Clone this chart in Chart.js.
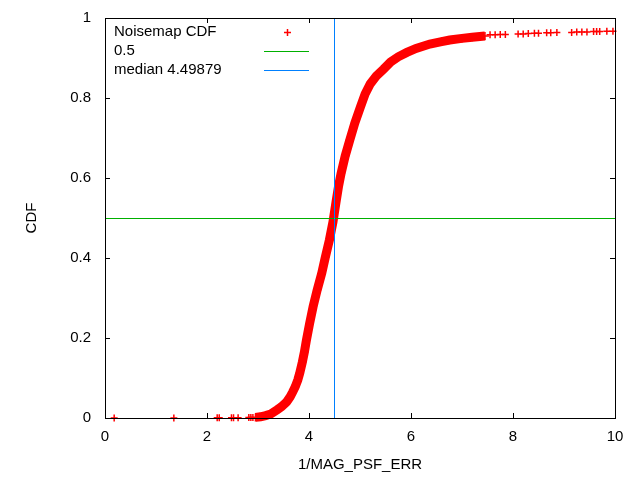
<!DOCTYPE html>
<html>
<head>
<meta charset="utf-8">
<script src="https://cdn.jsdelivr.net/npm/chart.js@4.4.1/dist/chart.umd.min.js"></script>
<style>
  html, body { margin: 0; padding: 0; background: #fff; }
  #wrap { width: 640px; height: 480px; }
</style>
</head>
<body>
<div id="wrap"><canvas id="cdfChart"></canvas></div>
<script>
const curveX = [2.95, 3.05, 3.15, 3.25, 3.37, 3.46, 3.56, 3.63, 3.68, 3.73, 3.78, 3.82, 3.87, 3.91, 3.95,
  4.01, 4.08, 4.16, 4.25, 4.32, 4.40, 4.47, 4.53, 4.58, 4.63, 4.71, 4.80, 4.90, 5.01, 5.10, 5.20,
  5.32, 5.46, 5.60, 5.75, 5.92, 6.10, 6.37, 6.60, 6.76, 7.00, 7.20, 7.45];
const curveY = [0.0015, 0.003, 0.006, 0.01, 0.02, 0.028, 0.04, 0.053, 0.065, 0.078, 0.095, 0.113, 0.14, 0.165, 0.195,
  0.235, 0.278, 0.32, 0.362, 0.402, 0.445, 0.49, 0.54, 0.58, 0.612, 0.655, 0.695, 0.738, 0.778, 0.81, 0.835,
  0.855, 0.872, 0.89, 0.903, 0.914, 0.924, 0.935, 0.941, 0.945, 0.949, 0.952, 0.955];

// isolated markers at both ends of the distribution
const tailX = [0.18, 1.35, 2.2, 2.24, 2.48, 2.52, 2.61, 2.82, 2.86, 2.9,
  7.55, 7.65, 7.75, 7.85, 8.1, 8.2, 8.3, 8.42, 8.5, 8.66, 8.74, 8.86, 9.15, 9.25, 9.35, 9.45, 9.58, 9.64, 9.7, 9.84, 9.96];
const tailY = [0.0001, 0.0002, 0.0004, 0.0005, 0.0006, 0.0007, 0.0008, 0.001, 0.0011, 0.0012,
  0.958, 0.958, 0.959, 0.959, 0.96, 0.96, 0.961, 0.962, 0.962, 0.963, 0.963, 0.964, 0.964, 0.965, 0.965, 0.965, 0.966, 0.966, 0.966, 0.967, 0.967];

const halfLevel = 0.5;
const medianValue = 4.49879;
const xTicks = [0, 2, 4, 6, 8, 10];
const yTicks = [0, 0.2, 0.4, 0.6, 0.8, 1];
const legendLabels = ["Noisemap CDF", "0.5", "median " + medianValue];

const RED = "#ff0000";
const GREEN = "#00b000";
const BLUE = "#0080ff";
const FONT = { family: "'Liberation Sans', Arial, sans-serif", size: 15 };

const zip = (xs, ys) => xs.map((x, i) => ({ x: x, y: ys[i] }));

// gnuplot style frame: border with inward ticks on all four sides
const framePlugin = {
  id: "frame",
  afterDatasetsDraw(chart) {
    const { ctx, chartArea: a, scales } = chart;
    const len = 5;
    ctx.save();
    ctx.strokeStyle = "#000";
    ctx.lineWidth = 1;
    ctx.beginPath();
    xTicks.forEach((v) => {
      const px = Math.round(scales.x.getPixelForValue(v)) + 0.5;
      ctx.moveTo(px, a.bottom); ctx.lineTo(px, a.bottom - len);
      ctx.moveTo(px, a.top); ctx.lineTo(px, a.top + len);
    });
    yTicks.forEach((v) => {
      const py = Math.round(scales.y.getPixelForValue(v)) + 0.5;
      ctx.moveTo(a.left, py); ctx.lineTo(a.left + len, py);
      ctx.moveTo(a.right, py); ctx.lineTo(a.right - len, py);
    });
    ctx.stroke();
    ctx.strokeRect(Math.round(a.left) + 0.5, Math.round(a.top) + 0.5,
      Math.round(a.right - a.left), Math.round(a.bottom - a.top));
    ctx.restore();
  }
};

// snap the thin reference lines onto whole pixels so they stay crisp
const snapPlugin = {
  id: "snap",
  beforeDatasetDraw(chart, args) {
    const snap = args.meta._dataset.snap;
    if (!snap) return;
    const { ctx, scales } = chart;
    ctx.save();
    if (snap === "y") {
      const py = scales.y.getPixelForValue(halfLevel);
      ctx.translate(0, Math.floor(py) + 0.5 - py);
    } else {
      const px = scales.x.getPixelForValue(medianValue);
      ctx.translate(Math.floor(px) + 0.5 - px, 0);
    }
  },
  afterDatasetDraw(chart, args) {
    if (args.meta._dataset.snap) chart.ctx.restore();
  }
};

// key in the top left corner, samples to the right of the text
const keyPlugin = {
  id: "key",
  afterDraw(chart) {
    const { ctx, chartArea: a } = chart;
    const textX = a.left + 9;
    const sx0 = a.left + 159, sx1 = a.left + 204;
    ctx.save();
    ctx.font = FONT.size + "px " + FONT.family;
    ctx.textBaseline = "alphabetic";
    ctx.fillStyle = "#000";
    legendLabels.forEach((label, i) => {
      const base = a.top + 18 + i * 19;
      ctx.fillText(label, textX, base);
      ctx.beginPath();
      if (i === 0) {
        const cx = Math.round((sx0 + sx1) / 2) + 0.5;
        const cy = base - 3.5;
        ctx.strokeStyle = RED;
        ctx.lineWidth = 1.5;
        ctx.moveTo(cx - 3.5, cy); ctx.lineTo(cx + 3.5, cy);
        ctx.moveTo(cx, cy - 3.5); ctx.lineTo(cx, cy + 3.5);
      } else {
        ctx.strokeStyle = i === 1 ? GREEN : BLUE;
        ctx.lineWidth = 1;
        ctx.moveTo(sx0, base - 3.5); ctx.lineTo(sx1, base - 3.5);
      }
      ctx.stroke();
    });
    ctx.restore();
  }
};

new Chart(document.getElementById("cdfChart"), {
  type: "scatter",
  data: {
    datasets: [
      {
        label: legendLabels[0],
        data: zip(curveX, curveY),
        showLine: true,
        borderColor: RED,
        backgroundColor: RED,
        borderWidth: 9,
        pointStyle: "cross",
        pointRadius: 4,
        pointBorderWidth: 1.5,
        clip: 8,
        order: 3
      },
      {
        label: "tail",
        data: zip(tailX, tailY),
        showLine: false,
        borderColor: RED,
        backgroundColor: RED,
        pointStyle: "cross",
        pointRadius: 3.5,
        pointBorderWidth: 1.5,
        clip: 8,
        order: 3
      },
      {
        label: legendLabels[1],
        data: zip([0, 10], [halfLevel, halfLevel]),
        showLine: true,
        borderColor: GREEN,
        borderWidth: 1,
        pointRadius: 0,
        snap: "y",
        order: 2
      },
      {
        label: legendLabels[2],
        data: zip([medianValue, medianValue], [0, 1]),
        showLine: true,
        borderColor: BLUE,
        borderWidth: 1,
        pointRadius: 0,
        snap: "x",
        order: 1
      }
    ]
  },
  options: {
    responsive: true,
    maintainAspectRatio: false,
    animation: false,
    layout: { padding: { top: 18, right: 25, left: 0, bottom: 0 } },
    plugins: {
      legend: { display: false },
      tooltip: { enabled: false }
    },
    scales: {
      x: {
        type: "linear",
        min: 0,
        max: 10,
        afterBuildTicks: (scale) => { scale.ticks = xTicks.map((v) => ({ value: v })); },
        afterFit: (scale) => { scale.height = 62; scale.paddingLeft = 0; scale.paddingRight = 0; },
        grid: { display: false, drawTicks: false },
        border: { display: false },
        ticks: { padding: 10, color: "#000", font: FONT, maxRotation: 0, callback: (v) => String(v) },
        title: { display: true, text: "1/MAG_PSF_ERR", color: "#000", font: FONT, padding: { top: 0, bottom: 6 } }
      },
      y: {
        type: "linear",
        min: 0,
        max: 1,
        afterBuildTicks: (scale) => { scale.ticks = yTicks.map((v) => ({ value: v })); },
        afterFit: (scale) => { scale.width = 105; scale.paddingTop = 0; scale.paddingBottom = 0; },
        grid: { display: false, drawTicks: false },
        border: { display: false },
        ticks: { padding: 14, color: "#000", font: FONT, callback: (v) => String(v) },
        title: { display: true, text: "CDF", color: "#000", font: FONT, padding: { top: 23, bottom: 0 } }
      }
    }
  },
  plugins: [framePlugin, snapPlugin, keyPlugin]
});
</script>
</body>
</html>
